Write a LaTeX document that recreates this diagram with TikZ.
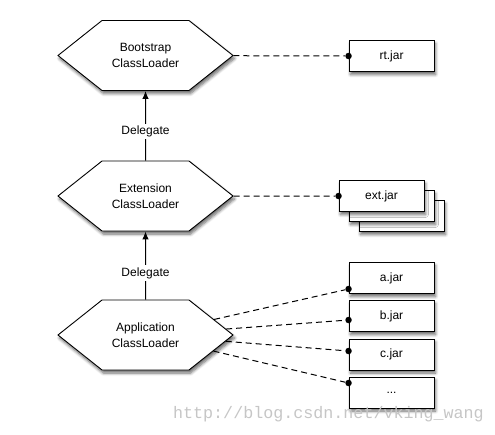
\documentclass[tikz,border=0pt]{standalone}
\usepackage{fontspec}
\setmainfont{Liberation Sans}
\newfontfamily\wmfont{Liberation Mono}
\usetikzlibrary{shapes.symbols,shadows.blur,arrows.meta}
\begin{document}
\begin{tikzpicture}[x=1pt,y=-1pt,
  shadowed/.style={blur shadow={shadow xshift=1.5pt, shadow yshift=-3pt, shadow blur steps=6, shadow blur radius=3pt, shadow opacity=60}},
  loader/.style={signal, signal to=east and west, signal pointer angle=77,
    minimum width=175pt, minimum height=70pt, inner sep=0pt,
    draw=black, line width=0.9pt, fill=white, align=center,
    font=\fontsize{12}{16}\selectfont, shadowed},
  jar/.style={rectangle, minimum width=85pt, minimum height=31pt, inner sep=0pt,
    draw=black, line width=0.9pt, fill=white,
    font=\fontsize{12}{14}\selectfont, shadowed},
  dot/.style={circle, fill=black, inner sep=0pt, minimum size=6.5pt},
  link/.style={dash pattern=on 6pt off 4pt, line width=1pt, draw=black},
  delegate/.style={-{Latex[length=8pt,width=6.5pt]}, line width=1pt, draw=black},
  lbl/.style={fill=white, inner sep=2pt, font=\fontsize{12}{14}\selectfont}
]
\useasboundingbox (0,0) rectangle (495,434);

% class loaders
\node[loader] (boot) at (145.5,55.5) {Bootstrap\\ClassLoader};
\node[loader] (ext) at (145.5,196) {Extension\\ClassLoader};
\node[loader] (app) at (145.5,335) {Application\\ClassLoader};

% jars
\node[jar] (rt) at (391.5,56) {rt.jar};
\node[jar] (ext3) at (401.5,216) {};
\node[jar] (ext2) at (391.5,206) {};
\node[jar] (extjar) at (381.5,196) {ext.jar};
\node[jar] (a) at (391.5,278) {a.jar};
\node[jar] (b) at (391.5,316) {b.jar};
\node[jar] (c) at (391.5,354.5) {c.jar};
\node[jar] (d) at (391.5,392.5) {...};

% dots
\node[dot] (drt) at (rt.west) {};
\node[dot] (dext) at (extjar.west) {};
\node[dot] (da) at ([yshift=-11pt]a.west) {};
\node[dot] (db) at ([yshift=-4pt]b.west) {};
\node[dot] (dc) at ([yshift=3.5pt]c.west) {};
\node[dot] (dd) at ([yshift=9.5pt]d.west) {};

% links
\draw[link] (boot) -- (drt);
\draw[link] (ext) -- (dext);
\draw[link] (app) -- (da);
\draw[link] (app) -- (db);
\draw[link] (app) -- (dc);
\draw[link] (app) -- (dd);

% delegation
\draw[delegate] (ext) -- node[lbl, pos=0.42] (del1) {Delegate} (boot);
\draw[delegate] (app) -- node[lbl, pos=0.39] (del2) {Delegate} (ext);

% watermark
\node[anchor=east, inner sep=0pt, text=gray!45, font=\wmfont\fontsize{16.7}{17}\selectfont] (wm) at (484,414) {http://blog.csdn.net/vking\_wang};
\end{tikzpicture}
\end{document}
